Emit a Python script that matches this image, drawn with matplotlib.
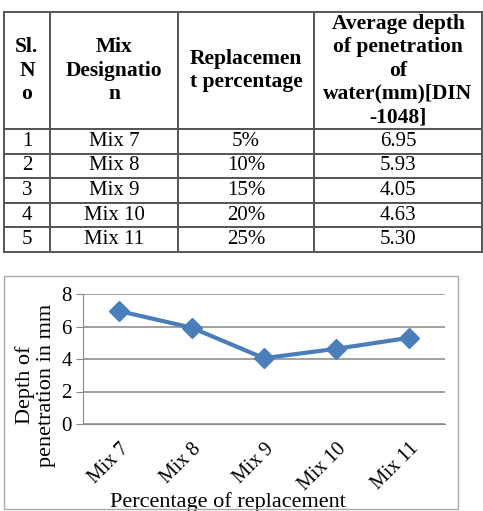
import matplotlib.pyplot as plt
from matplotlib.patches import Rectangle

# =========================
# DATA
# =========================
col_labels = ["Sl.\nN\no", "Mix\nDesignatio\nn", "Replacemen\nt percentage",
              "Average depth\nof penetration\nof\nwater(mm)[DIN\n-1048]"]
sl_no = ["1", "2", "3", "4", "5"]
mixes = ["Mix 7", "Mix 8", "Mix 9", "Mix 10", "Mix 11"]
replacement = ["5%", "10%", "15%", "20%", "25%"]
depth = [6.95, 5.93, 4.05, 4.63, 5.30]

y_ticks = [0, 2, 4, 6, 8]

W, H = 483, 511
fig = plt.figure(figsize=(W / 100, H / 100), dpi=100)

def fx(px):
    return px / W

def fy(py):
    return 1 - py / H

# =========================
# TABLE
# =========================
tax = fig.add_axes([0, 0, 1, 1])
tax.set_axis_off()

rows = [[s, m, r, f"{d:.2f}"] for s, m, r, d in zip(sl_no, mixes, replacement, depth)]
col_w = [46, 128, 136, 168]
head_h = 117
row_h = 24.6

tbl = tax.table(cellText=rows, colLabels=col_labels, cellLoc="center",
                bbox=[fx(4), fy(252), fx(482) - fx(4), fy(12) - fy(252)])
tbl.auto_set_font_size(False)
for (r, c), cell in tbl.get_celld().items():
    cell.set_width(col_w[c])
    cell.set_linewidth(1.4)
    cell.set_edgecolor("#555555")
    if r == 0:
        cell.set_height(head_h)
        cell.get_text().set_fontproperties({"family": "Liberation Serif", "weight": "bold", "size": 15.5})
        cell.get_text().set_linespacing(1.22)
    else:
        cell.set_height(row_h)
        cell.get_text().set_fontproperties({"family": "Liberation Serif", "size": 15})

# =========================
# CHART
# =========================
fig.add_artist(Rectangle((fx(4), fy(509)), fx(458) - fx(4), fy(276) - fy(509),
                         transform=fig.transFigure, fill=False,
                         edgecolor="#aaaaaa", linewidth=1.0))

ax = fig.add_axes([fx(83), fy(424), fx(445) - fx(83), fy(294) - fy(424)])
x = range(len(mixes))
ax.plot(x, depth, color="#4a7ebb", linewidth=3, marker="D", markersize=10)
ax.set_xlim(-0.5, len(mixes) - 0.5)
ax.set_ylim(0, 8)
ax.set_yticks(y_ticks)
ax.set_xticks(list(x))
ax.set_xticklabels(mixes, rotation=45, ha="right", rotation_mode="anchor",
                   family="Liberation Serif", fontsize=14.5)
ax.set_yticklabels([str(v) for v in y_ticks], family="Liberation Serif", fontsize=15)
ax.grid(axis="y", color="#999999", linewidth=1.3)
ax.set_axisbelow(True)
for s in ["top", "right"]:
    ax.spines[s].set_visible(False)
ax.spines["left"].set_color("#888888")
ax.spines["bottom"].set_color("#888888")
ax.tick_params(axis="y", length=5, color="#888888", pad=3)
ax.tick_params(axis="x", length=0, pad=11)

ax.set_xlabel("Percentage of replacement", family="Liberation Serif", fontsize=16)
ax.xaxis.set_label_coords(0.40, -0.52)
ax.set_ylabel("Depth of\npenetration in mm", family="Liberation Serif", fontsize=16,
              linespacing=1.15)
ax.yaxis.set_label_coords(-0.075, 0.3)

plt.savefig("out.png", dpi=100)
